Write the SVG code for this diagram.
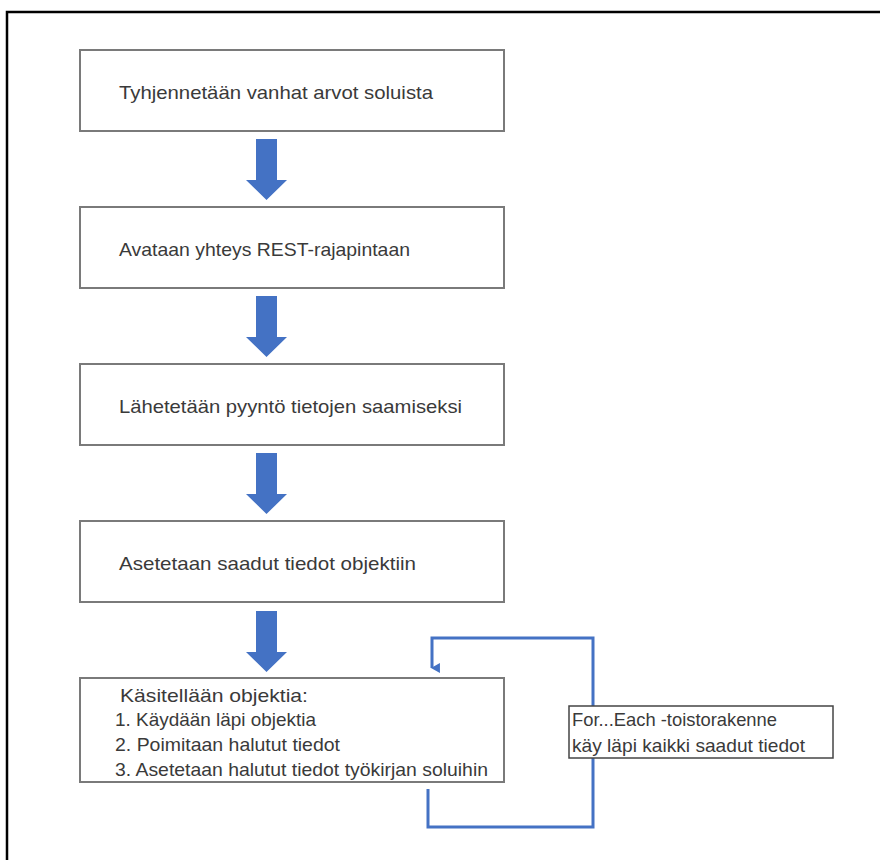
<svg xmlns="http://www.w3.org/2000/svg" width="880" height="860" viewBox="0 0 880 860">
<style>
.box{fill:#fff;stroke:#7a7a7a;stroke-width:2}
.note{fill:#fff;stroke:#444;stroke-width:1.5}
.t{font-family:"Liberation Sans",Arial,sans-serif;font-size:18.5px;fill:#3a3a3a}
.big{fill:#4472C4}
.loop{fill:none;stroke:#4472C4;stroke-width:3}
</style>
<defs>
<marker id="ah" viewBox="0 0 10 10" refX="5" refY="8" markerWidth="3.3" markerHeight="3.3" orient="auto-start-reverse" markerUnits="strokeWidth">
<path d="M0,0 L10,0 L5,9 z" fill="#4472C4"/>
</marker>
<path id="bigarrow" d="M-10.5,0 H10.5 V41 H20.5 L0,61 L-20.5,41 H-10.5 Z"/>
</defs>
<rect width="880" height="860" fill="#fff"/>
<g id="frame">
<path d="M7,860 V12 H880" fill="none" stroke="#000" stroke-width="2.5"/>
</g>
<g id="n1">
<rect class="box" x="80" y="50" width="424" height="81"/>
<text class="t" x="119" y="99" textLength="314" lengthAdjust="spacingAndGlyphs">Tyhjennetään vanhat arvot soluista</text>
</g>
<g id="n2">
<rect class="box" x="80" y="207" width="424" height="81"/>
<text class="t" x="119" y="256" textLength="291" lengthAdjust="spacingAndGlyphs">Avataan yhteys REST-rajapintaan</text>
</g>
<g id="n3">
<rect class="box" x="80" y="364" width="424" height="81"/>
<text class="t" x="119" y="413" textLength="343" lengthAdjust="spacingAndGlyphs">Lähetetään pyyntö tietojen saamiseksi</text>
</g>
<g id="n4">
<rect class="box" x="80" y="521" width="424" height="81"/>
<text class="t" x="119" y="570" textLength="297" lengthAdjust="spacingAndGlyphs">Asetetaan saadut tiedot objektiin</text>
</g>
<g id="n5">
<rect class="box" x="80" y="678" width="424" height="104"/>
<text class="t" x="120" y="702" textLength="188" lengthAdjust="spacingAndGlyphs">Käsitellään objektia:</text>
<text class="t" x="115" y="726" textLength="201" lengthAdjust="spacingAndGlyphs">1. Käydään läpi objektia</text>
<text class="t" x="115" y="751" textLength="225" lengthAdjust="spacingAndGlyphs">2. Poimitaan halutut tiedot</text>
<text class="t" x="115" y="776" textLength="373" lengthAdjust="spacingAndGlyphs">3. Asetetaan halutut tiedot työkirjan soluihin</text>
</g>
<g id="connectors">
<use href="#bigarrow" class="big" x="266.5" y="139"/>
<use href="#bigarrow" class="big" x="266.5" y="296"/>
<use href="#bigarrow" class="big" x="266.5" y="453"/>
<use href="#bigarrow" class="big" x="266.5" y="611"/>
<path class="loop" d="M428,789 V827 H593 V638 H432 V668" marker-end="url(#ah)"/>
</g>
<g id="n6">
<rect class="note" x="569" y="706" width="264" height="52"/>
<text class="t" x="572" y="726" textLength="205" lengthAdjust="spacingAndGlyphs">For...Each -toistorakenne</text>
<text class="t" x="572" y="752" textLength="233" lengthAdjust="spacingAndGlyphs">käy läpi kaikki saadut tiedot</text>
</g>
</svg>
